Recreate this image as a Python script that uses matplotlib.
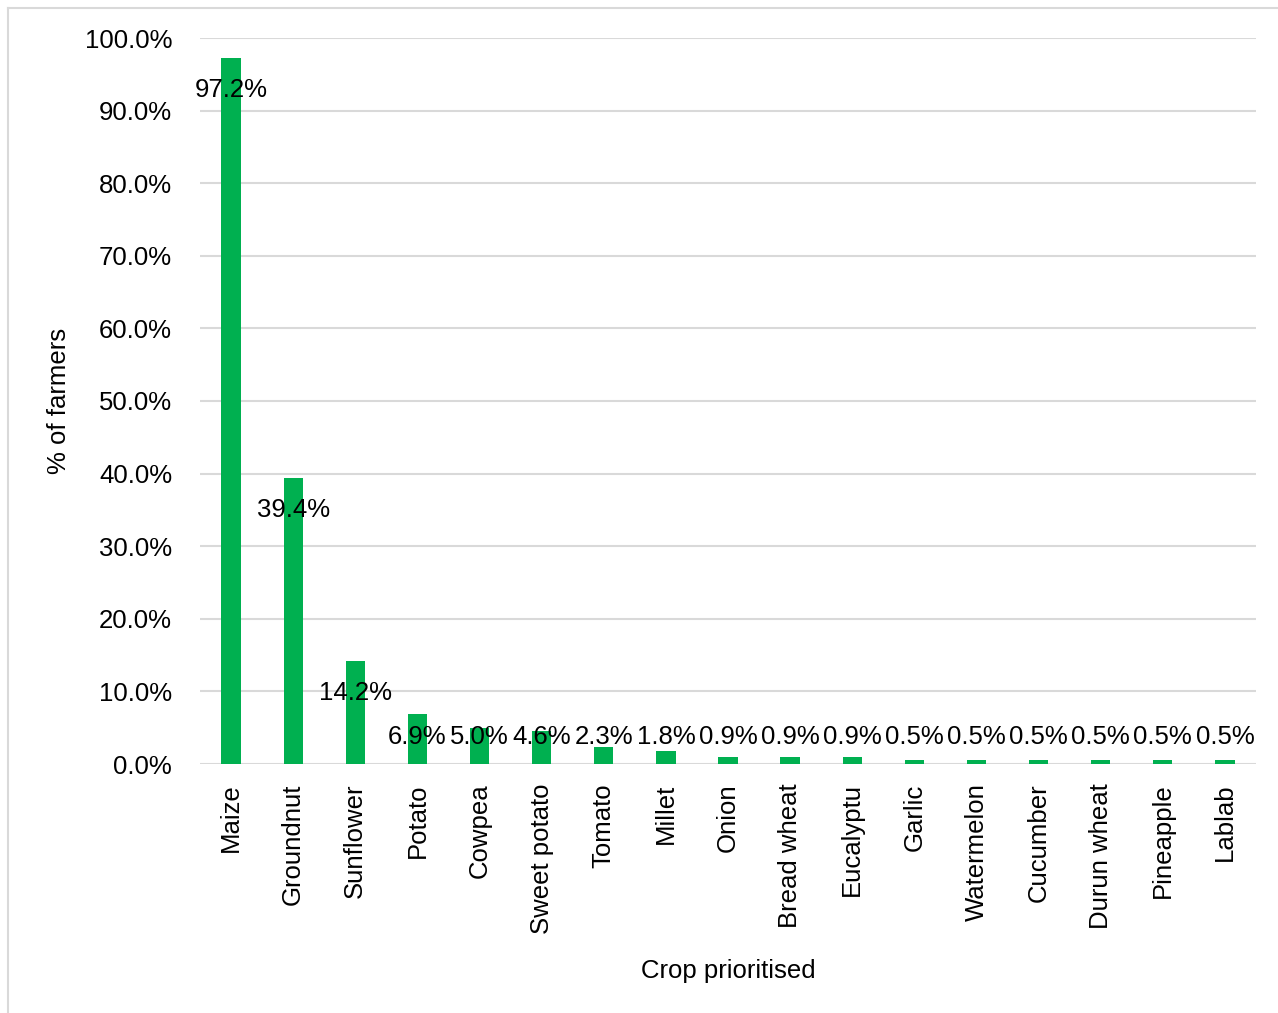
import numpy as np
import matplotlib.pyplot as plt
from matplotlib.lines import Line2D

crops = ['Maize', 'Groundnut', 'Sunflower', 'Potato', 'Cowpea', 'Sweet potato',
         'Tomato', 'Millet', 'Onion', 'Bread wheat', 'Eucalyptu', 'Garlic',
         'Watermelon', 'Cucumber', 'Durun wheat', 'Pineapple', 'Lablab']
pct = [97.2, 39.4, 14.2, 6.9, 5.0, 4.6, 2.3, 1.8, 0.9, 0.9, 0.9,
       0.5, 0.5, 0.5, 0.5, 0.5, 0.5]

plt.rcParams['font.family'] = ['Liberation Sans', 'DejaVu Sans']
fs = 18.5

fig = plt.figure(figsize=(12.78, 10.13), dpi=100)
ax = fig.add_axes([200/1278, 1 - 764/1013, 1056/1278, 726/1013])

x = np.arange(len(crops))
ax.bar(x, pct, width=0.31, color='#00B050', zorder=3)

# labels sit a bit below the bar top, pushed up for short bars (like Excel)
for xi, v in zip(x, pct):
    ax.text(xi, max(v - 4.4, 3.7), '%.1f%%' % v, ha='center', va='center',
            fontsize=fs, color='black', zorder=4)

ax.set_xlim(-0.5, len(crops) - 0.5)
ax.set_ylim(0, 100)
ax.set_yticks(np.arange(0, 101, 10))
ax.set_yticklabels(['%.1f%%' % t for t in np.arange(0, 101, 10)])
ax.set_xticks(x)
ax.set_xticklabels(crops, rotation=90)
ax.tick_params(axis='both', length=0, labelsize=fs)
ax.tick_params(axis='y', pad=20)
ax.tick_params(axis='x', pad=14)
ax.yaxis.grid(True, color='#D9D9D9', linewidth=1.5, zorder=0)
for s in ax.spines.values():
    s.set_visible(False)

ax.set_xlabel('Crop prioritised', fontsize=fs, labelpad=18)
ax.set_ylabel('% of farmers', fontsize=fs, labelpad=10)

# chart border (only top/left visible)
fig.add_artist(Line2D([8/1278, 8/1278], [0, 1 - 8/1013], color='#D9D9D9', lw=1.5))
fig.add_artist(Line2D([8/1278, 1], [1 - 8/1013, 1 - 8/1013], color='#D9D9D9', lw=1.5))

fig.savefig('out.png', dpi=100)
